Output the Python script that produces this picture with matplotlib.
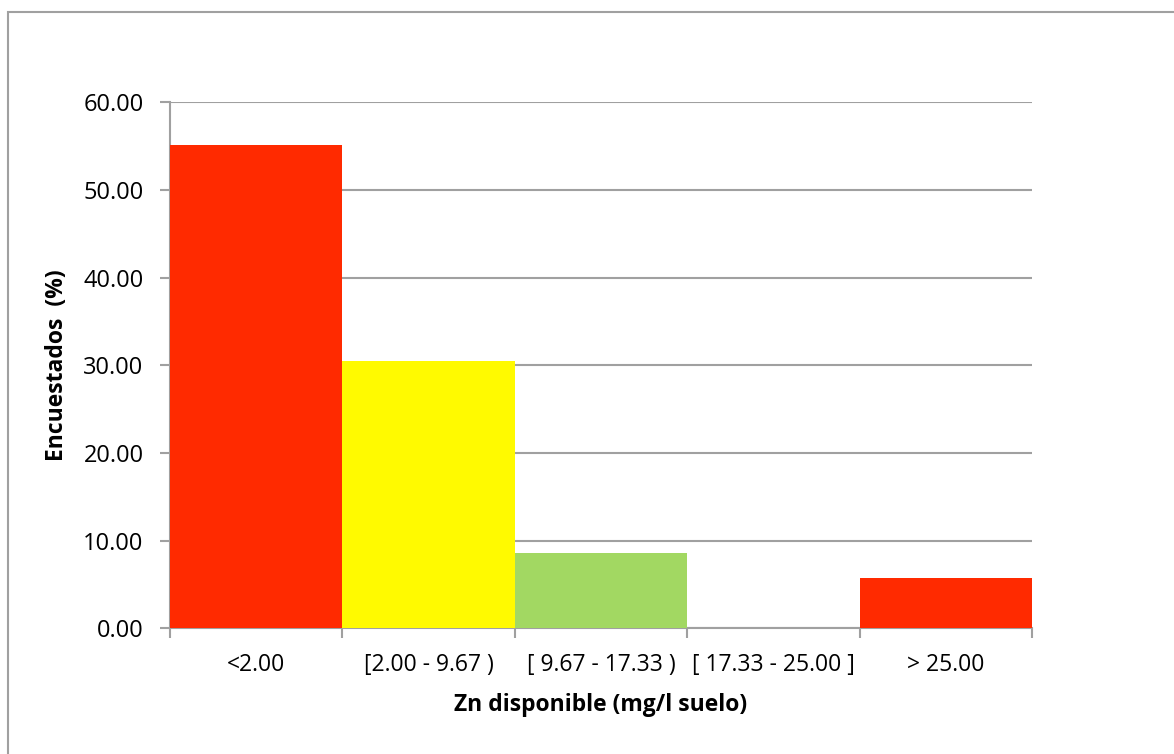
import matplotlib
matplotlib.use("Agg")
import matplotlib.pyplot as plt
import matplotlib.patches as patches
import numpy as np

# datos
categorias = ["<2.00", "[2.00 - 9.67 )", "[ 9.67 - 17.33 )", "[ 17.33 - 25.00 ]", "> 25.00"]
encuestados = [55.17, 30.46, 8.62, 0.0, 5.75]
colores = ["#FF2A00", "#FFFA00", "#A2D862", "#FFFFFF", "#FF2A00"]
yticks = [0, 10, 20, 30, 40, 50, 60]

plt.rcParams['font.family'] = ['Open Sans', 'DejaVu Sans']
gris = "#A0A0A0"

fig = plt.figure(figsize=(11.74, 7.54), dpi=100)
ax = fig.add_axes([170 / 1174, 1 - 628.3 / 754, (1032 - 170) / 1174, (628.3 - 102.3) / 754])

# marco exterior
fig.patches.append(patches.Rectangle((8 / 1174, -0.1), 1.2, 1 - 12 / 754 + 0.1,
                                     transform=fig.transFigure, fill=False,
                                     edgecolor=gris, linewidth=1.5, clip_on=False))

x = np.arange(len(categorias))
ax.bar(x, encuestados, width=1.0, color=colores, zorder=3)

ax.set_xlim(-0.5, len(categorias) - 0.5)
ax.set_ylim(0, 60)
ax.set_yticks(yticks)
ax.set_yticklabels(["{:.2f}".format(v) for v in yticks], fontsize=17)
ax.yaxis.grid(True, color=gris, linewidth=1.5, zorder=0)
ax.set_axisbelow(True)

ax.set_xticks(np.arange(len(categorias) + 1) - 0.5)
ax.set_xticklabels([])
ax.set_xticks(x, minor=True)
ax.set_xticklabels(categorias, minor=True, fontsize=16.5)
ax.tick_params(axis='x', which='major', direction='out', length=7, width=1.5, color=gris)
ax.tick_params(axis='x', which='minor', length=0, pad=18)
ax.tick_params(axis='y', direction='out', length=7, width=1.5, color=gris, pad=12)

for s in ["top", "right"]:
    ax.spines[s].set_visible(False)
for s in ["left", "bottom"]:
    ax.spines[s].set_color(gris)
    ax.spines[s].set_linewidth(1.5)

ax.set_xlabel("Zn disponible (mg/l suelo)", fontsize=16.5, fontweight='bold', labelpad=11)
ax.set_ylabel("Encuestados  (%)", fontsize=16.5, fontweight='bold', labelpad=10)

fig.savefig("out.png", dpi=100)
